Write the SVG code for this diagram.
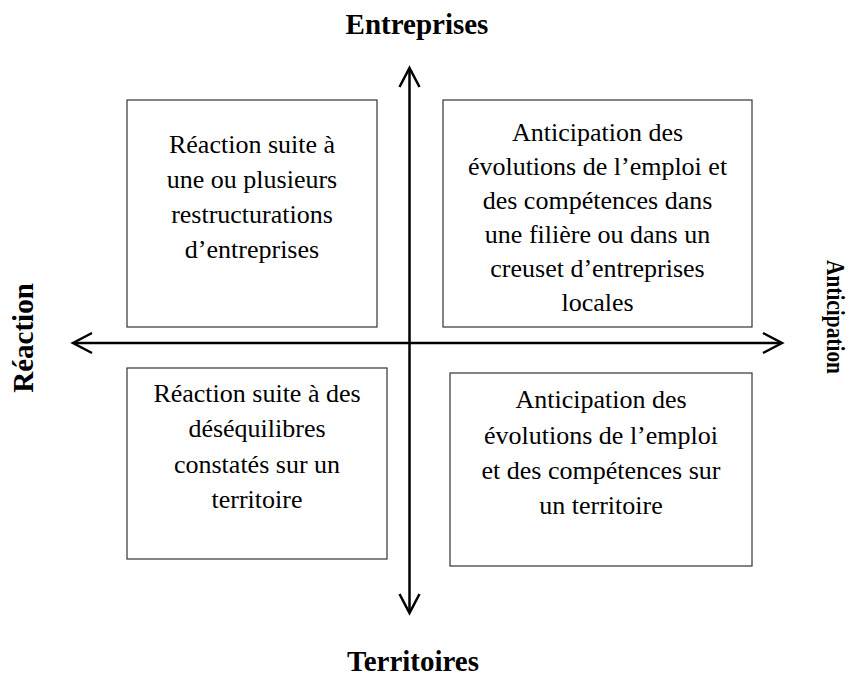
<svg xmlns="http://www.w3.org/2000/svg" width="851" height="682" viewBox="0 0 851 682">
<style>
.box{fill:#fff;stroke:#333;stroke-width:1.2}
.t{font-family:"Liberation Serif","Times New Roman",serif;font-size:26px;fill:#000;text-anchor:middle}
.b{font-family:"Liberation Serif","Times New Roman",serif;font-size:29px;font-weight:bold;fill:#000;text-anchor:middle}
.ax{stroke:#000;stroke-width:2.5;fill:none}
</style>
<rect width="851" height="682" fill="#fff"/>
<g id="connectors">
<line class="ax" x1="409.5" y1="69" x2="409.5" y2="612"/>
<line class="ax" x1="74" y1="343" x2="781" y2="343"/>
<polyline class="ax" points="399.5,87 409.5,68 419.5,87"/>
<polyline class="ax" points="399.5,594 409.5,613 419.5,594"/>
<polyline class="ax" points="92,333 73,343 92,353"/>
<polyline class="ax" points="763,333 782,343 763,353"/>
</g>
<g id="label-entreprises"><text class="b" x="417" y="34">Entreprises</text></g>
<g id="label-territoires"><text class="b" x="413" y="671">Territoires</text></g>
<g id="label-reaction"><text class="b" transform="translate(33,338) rotate(-90)">Réaction</text></g>
<g id="label-anticipation"><text class="b" style="font-size:26px" textLength="114" lengthAdjust="spacingAndGlyphs" transform="translate(827,317) rotate(90)">Anticipation</text></g>
<g id="node-tl">
<rect class="box" x="127" y="100" width="250" height="227"/>
<text class="t" x="252" y="153">Réaction suite à</text>
<text class="t" x="252" y="188">une ou plusieurs</text>
<text class="t" x="252" y="223">restructurations</text>
<text class="t" x="252" y="258">d’entreprises</text>
</g>
<g id="node-tr">
<rect class="box" x="443" y="100" width="309" height="227"/>
<text class="t" x="597.5" y="141">Anticipation des</text>
<text class="t" x="597.5" y="175">évolutions de l’emploi et</text>
<text class="t" x="597.5" y="209">des compétences dans</text>
<text class="t" x="597.5" y="243">une filière ou dans un</text>
<text class="t" x="597.5" y="277">creuset d’entreprises</text>
<text class="t" x="597.5" y="311">locales</text>
</g>
<g id="node-bl">
<rect class="box" x="127" y="368" width="260" height="191"/>
<text class="t" x="257" y="402">Réaction suite à des</text>
<text class="t" x="257" y="437">déséquilibres</text>
<text class="t" x="257" y="473">constatés sur un</text>
<text class="t" x="257" y="508">territoire</text>
</g>
<g id="node-br">
<rect class="box" x="450" y="373" width="302" height="193"/>
<text class="t" x="601" y="408">Anticipation des</text>
<text class="t" x="601" y="444">évolutions de l’emploi</text>
<text class="t" x="601" y="479">et des compétences sur</text>
<text class="t" x="601" y="514">un territoire</text>
</g>
</svg>
